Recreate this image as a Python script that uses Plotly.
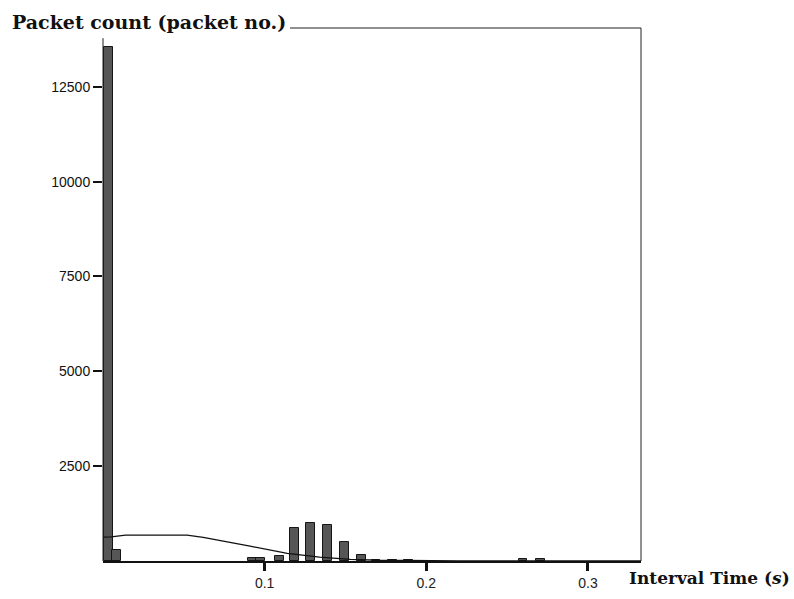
import plotly.graph_objects as go

# Histogram of packet inter-arrival times (bin centres in seconds, counts per bin)
bin_centers = [0.0034, 0.0083, 0.0925, 0.0975, 0.1091, 0.1185, 0.1284, 0.1390,
               0.1495, 0.1600, 0.1690, 0.1790, 0.1890, 0.2597, 0.2708]
bin_counts = [13550, 290, 70, 70, 130, 870, 995, 945,
              510, 150, 35, 30, 20, 60, 60]
bin_width = 0.0053

# Fitted normal curve overlay (x in seconds, expected count)
curve_x = [0.000, 0.005, 0.014, 0.030, 0.052, 0.062, 0.076, 0.081, 0.091,
           0.102, 0.114, 0.134, 0.153, 0.171, 0.196, 0.220, 0.333]
curve_y = [627, 635, 680, 685, 680, 620, 520, 470, 390,
           290, 200, 100, 45, 20, 5, 0, 0]

y_ticks = [2500, 5000, 7500, 10000, 12500]
y_tick_text = ["2500", "5000", "7500", "10000", "12500"]
x_ticks = [0.1, 0.2, 0.3]
x_tick_text = ["0.1", "0.2", "0.3"]

fig = go.Figure()
fig.add_trace(go.Bar(
    x=bin_centers, y=bin_counts, width=bin_width,
    marker=dict(color="#565656", line=dict(color="#151515", width=1)),
    showlegend=False,
))
fig.add_trace(go.Scatter(
    x=curve_x, y=curve_y, mode="lines",
    line=dict(color="#111111", width=1.3),
    showlegend=False,
))

fig.update_layout(
    width=794, height=599,
    margin=dict(l=103, r=153, t=28, b=38, autoexpand=False),
    paper_bgcolor="white", plot_bgcolor="white",
    bargap=0,
    font=dict(family="Liberation Sans, Arial, sans-serif", size=14, color="#111111"),
    xaxis=dict(
        range=[0, 0.3328], tickvals=x_ticks, ticktext=x_tick_text,
        ticks="outside", ticklen=8, tickwidth=2.5, tickcolor="#111111",
        showline=True, linecolor="#111111", linewidth=1.5,
        showgrid=False, zeroline=False, automargin=False,
        tickfont=dict(size=14, color="#222222"),
    ),
    yaxis=dict(
        range=[0, 14050], tickvals=y_ticks, ticktext=y_tick_text,
        ticks="outside", ticklen=9, tickwidth=1.5, tickcolor="#111111",
        showline=False, showgrid=False, zeroline=False, automargin=False,
        tickfont=dict(size=14, color="#111111"),
    ),
    shapes=[
        # frame: top edge starts after the y-axis title, right edge full height
        dict(type="line", xref="paper", yref="paper", x0=0.3476, x1=1, y0=1, y1=1,
             line=dict(color="#222222", width=1)),
        dict(type="line", xref="paper", yref="paper", x0=1, x1=1, y0=0, y1=1,
             line=dict(color="#222222", width=1)),
        dict(type="line", xref="paper", yref="paper", x0=0, x1=0, y0=0, y1=0.981,
             line=dict(color="#222222", width=1)),
    ],
    annotations=[
        dict(text="<b>Packet count (packet no.)</b>", xref="paper", yref="paper",
             x=-0.172, y=1.012, xanchor="left", yanchor="middle", showarrow=False,
             font=dict(family="DejaVu Serif, serif", size=19, color="#111111")),
        dict(text="<b>Interval Time (<i>s</i>)</b>", xref="paper", yref="paper",
             x=0.974, y=-0.032, xanchor="left", yanchor="middle", showarrow=False,
             font=dict(family="DejaVu Serif, serif", size=17, color="#111111")),
    ],
)

fig.write_html("out.html")
